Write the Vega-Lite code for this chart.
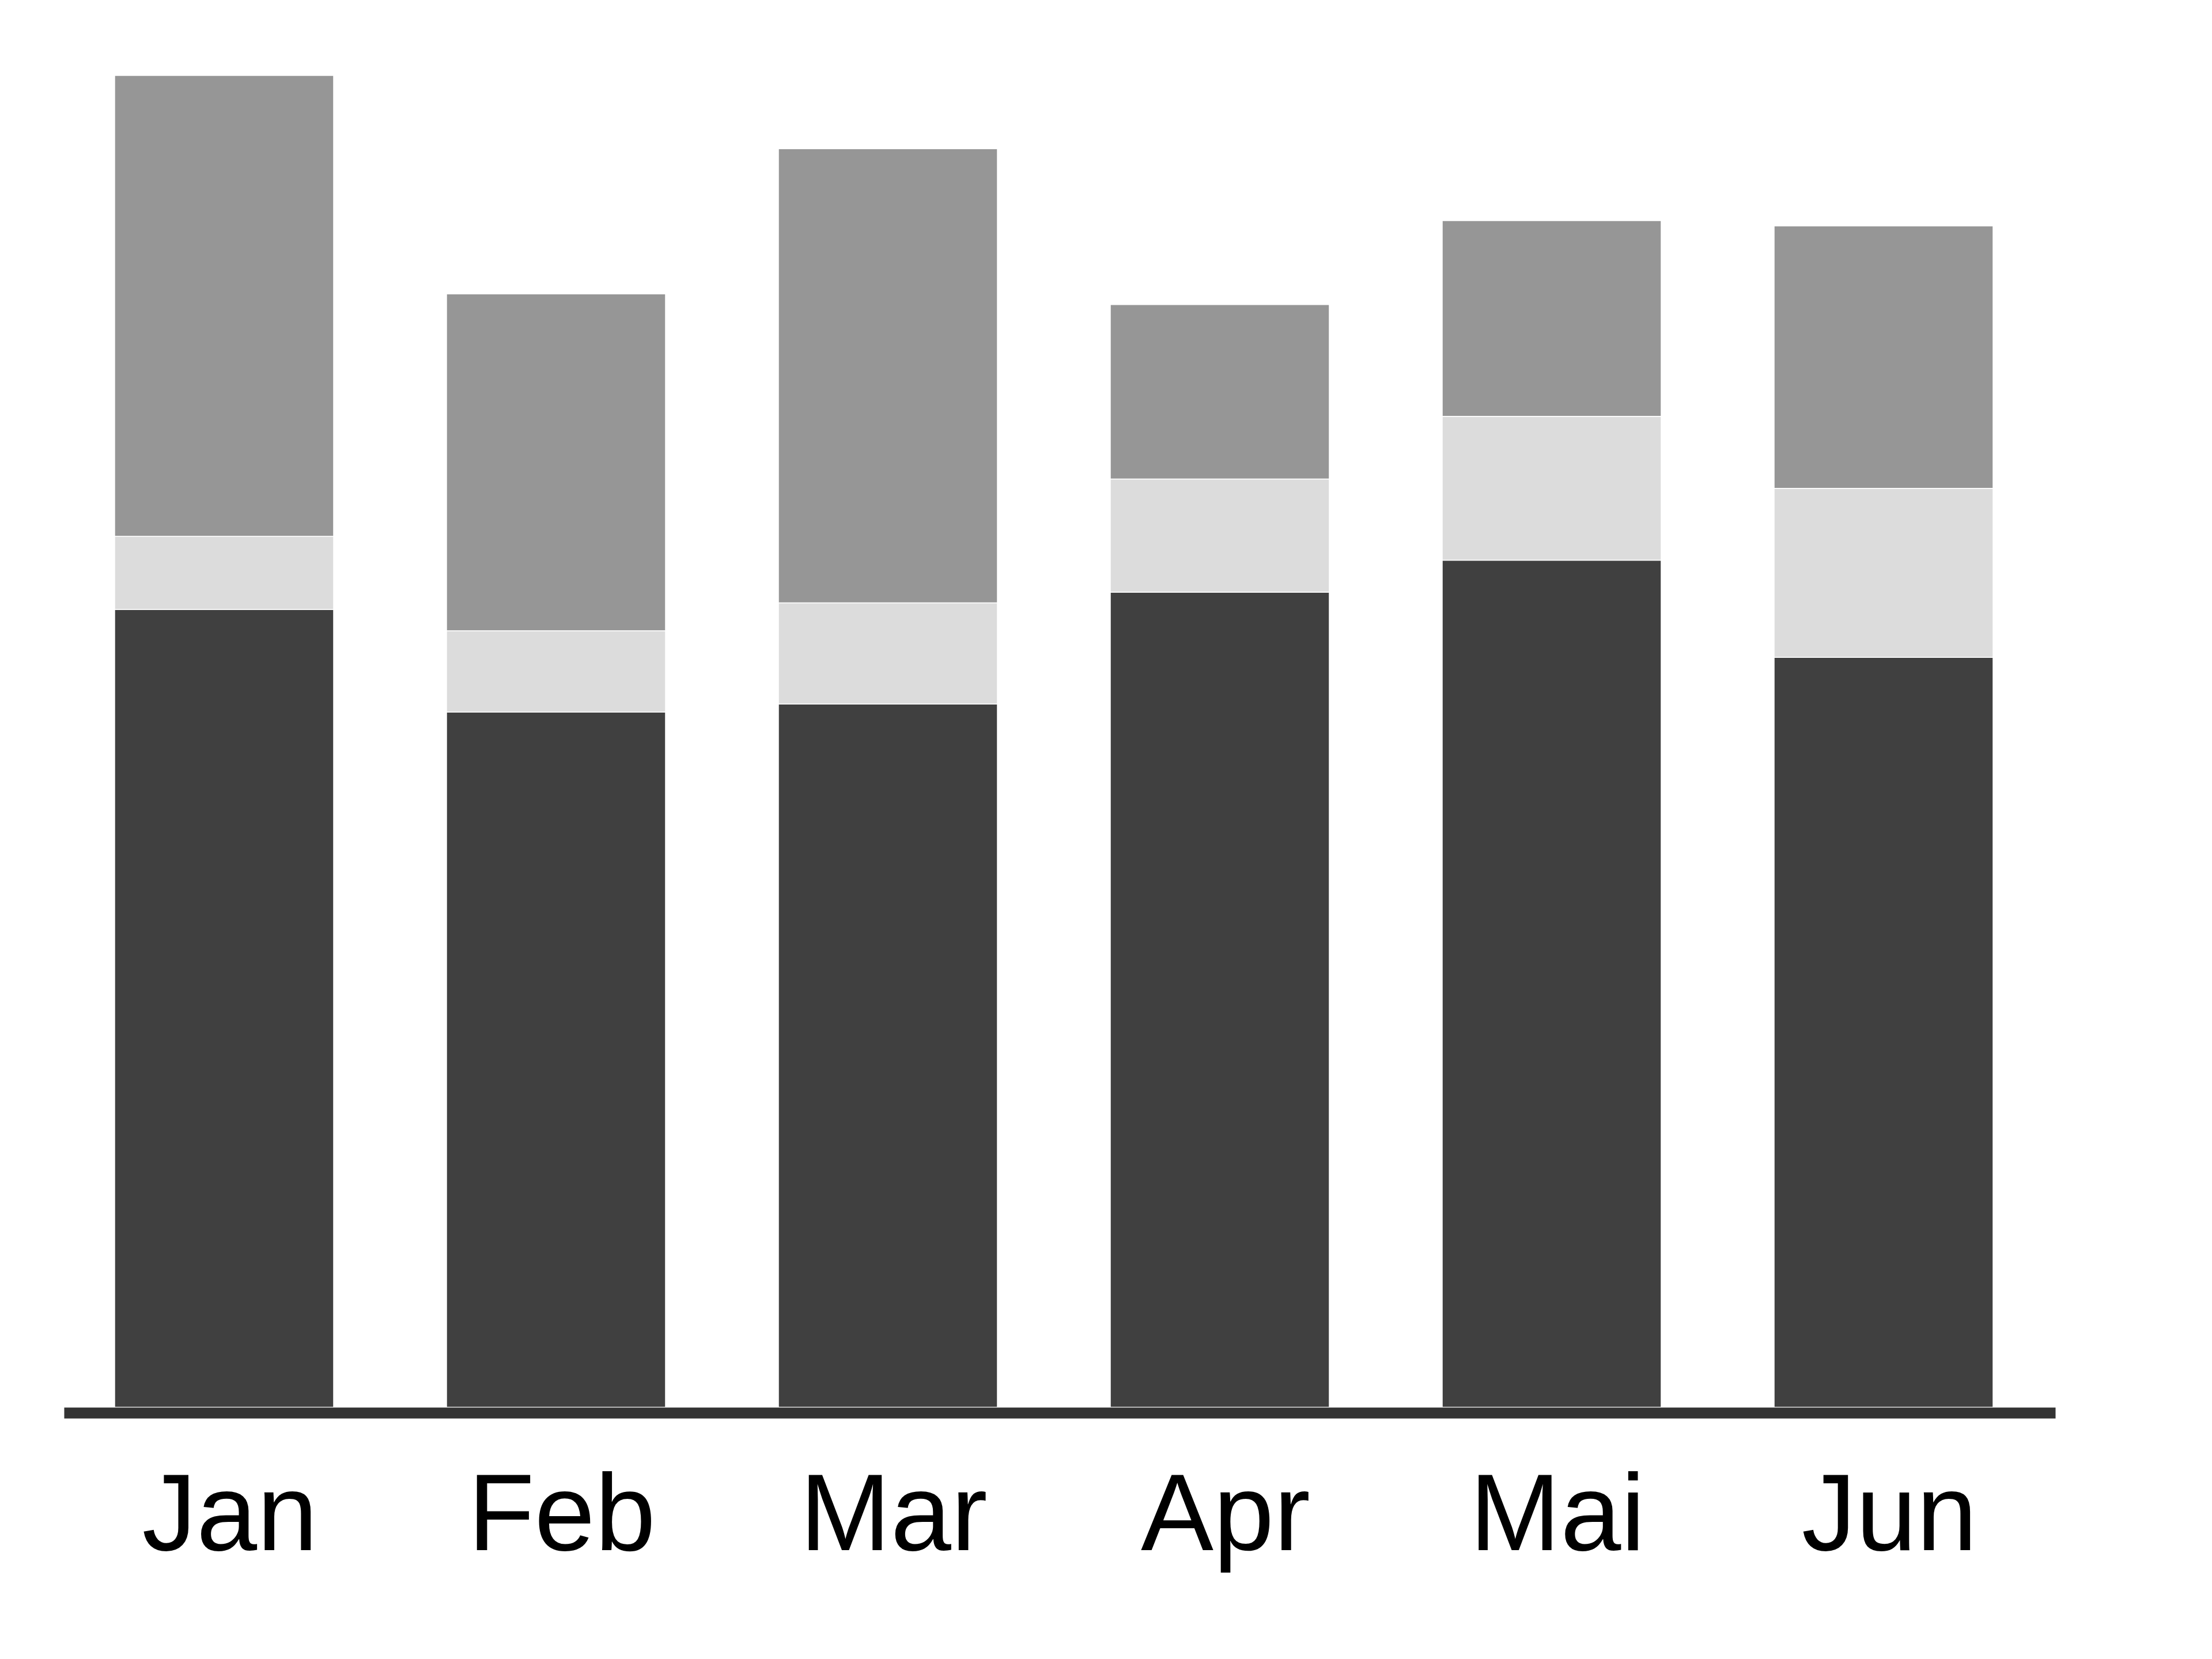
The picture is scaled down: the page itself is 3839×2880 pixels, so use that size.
{
  "$schema": "https://vega.github.io/schema/vega-lite/v6.json",
  "autosize": "none",
  "width": 3456,
  "height": 2312,
  "padding": {"left": 111, "top": 131, "right": 272, "bottom": 437},
  "background": "white",
  "config": {"view": {"stroke": null}},
  "data": {
    "values": [
      {"month": "Jan", "series": "A", "rank": 1, "value": 59.9},
      {"month": "Jan", "series": "B", "rank": 2, "value": 5.5},
      {"month": "Jan", "series": "C", "rank": 3, "value": 34.6},
      {"month": "Feb", "series": "A", "rank": 1, "value": 52.2},
      {"month": "Feb", "series": "B", "rank": 2, "value": 6.1},
      {"month": "Feb", "series": "C", "rank": 3, "value": 25.3},
      {"month": "Mar", "series": "A", "rank": 1, "value": 52.8},
      {"month": "Mar", "series": "B", "rank": 2, "value": 7.6},
      {"month": "Mar", "series": "C", "rank": 3, "value": 34.1},
      {"month": "Apr", "series": "A", "rank": 1, "value": 61.2},
      {"month": "Apr", "series": "B", "rank": 2, "value": 8.5},
      {"month": "Apr", "series": "C", "rank": 3, "value": 13.1},
      {"month": "Mai", "series": "A", "rank": 1, "value": 63.6},
      {"month": "Mai", "series": "B", "rank": 2, "value": 10.8},
      {"month": "Mai", "series": "C", "rank": 3, "value": 14.7},
      {"month": "Jun", "series": "A", "rank": 1, "value": 56.3},
      {"month": "Jun", "series": "B", "rank": 2, "value": 12.7},
      {"month": "Jun", "series": "C", "rank": 3, "value": 19.7}
    ]
  },
  "mark": {"type": "bar", "stroke": "white", "strokeWidth": 1.5},
  "encoding": {
    "x": {
      "field": "month",
      "type": "nominal",
      "sort": ["Jan", "Feb", "Mar", "Apr", "Mai", "Jun"],
      "scale": {"paddingInner": 0.3403, "paddingOuter": 0.1701, "align": 0.449},
      "axis": {
        "title": null,
        "labelAngle": 0,
        "ticks": false,
        "tickSize": 0,
        "offset": 9.5,
        "domainWidth": 19,
        "domainColor": "#333333",
        "labelFont": "Liberation Sans",
        "labelFontSize": 189,
        "labelColor": "#000000",
        "labelBaseline": "alphabetic",
        "labelPadding": 238,
        "labelOffset": 10,
        "labelLimit": 0,
        "labelOverlap": false,
        "zindex": 1
      }
    },
    "y": {
      "field": "value",
      "type": "quantitative",
      "stack": "zero",
      "scale": {"domain": [0, 100], "nice": false},
      "axis": null
    },
    "color": {
      "field": "series",
      "type": "nominal",
      "scale": {"domain": ["A", "B", "C"], "range": ["#404040", "#dcdcdc", "#969696"]},
      "legend": null
    },
    "order": {"field": "rank", "type": "quantitative"}
  }
}
